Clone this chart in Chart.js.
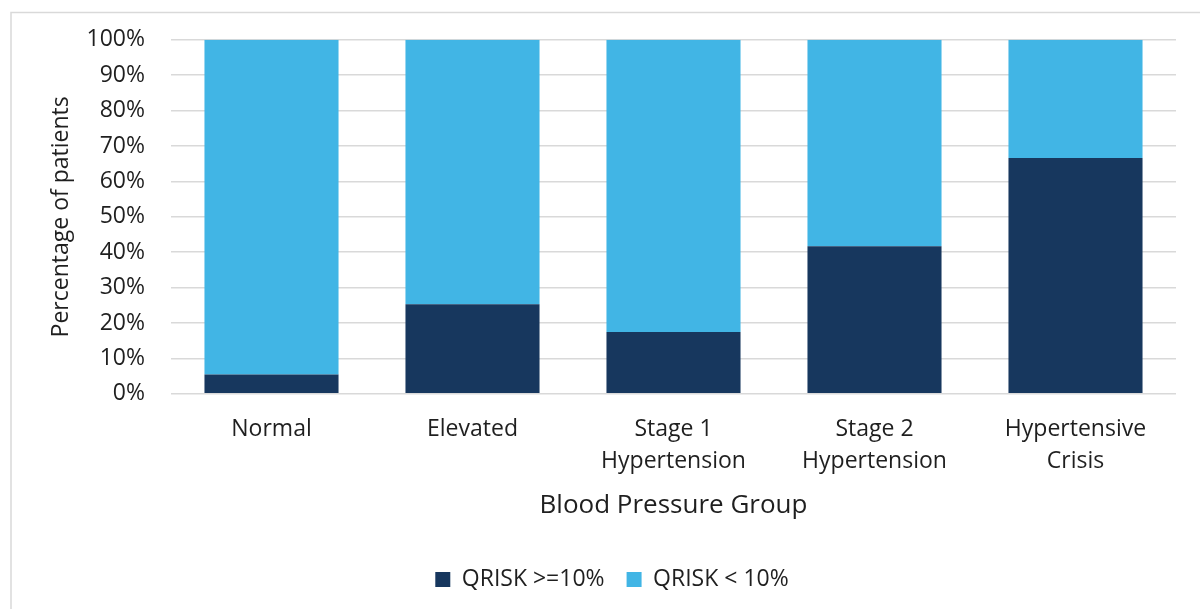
<!DOCTYPE html>
<html>
<head>
<meta charset="utf-8">
<script src="https://cdn.jsdelivr.net/npm/chart.js@4"></script>
<style>
  html, body { margin: 0; padding: 0; background: #fff; }
  #wrap { width: 1200px; height: 609px; position: relative; }
</style>
</head>
<body>
<div id="wrap"><canvas id="bpChart" width="1200" height="609"></canvas></div>
<script>
const groups = ['Normal', 'Elevated', ['Stage 1', 'Hypertension'], ['Stage 2', 'Hypertension'], ['Hypertensive', 'Crisis']];
const qriskHigh = [5.5, 25.3, 17.5, 41.7, 66.6];
const qriskLow = [94.5, 74.7, 82.5, 58.3, 33.4];
const yTicks = [0, 10, 20, 30, 40, 50, 60, 70, 80, 90, 100];

const textColor = '#1f1f1f';
const fontFamily = '"Open Sans", "Noto Sans", sans-serif';

// light frame around the chart area, like the exported chart
const framePlugin = {
    id: 'frame',
    beforeDraw(chart) {
        const ctx = chart.ctx;
        ctx.save();
        ctx.fillStyle = '#fff';
        ctx.fillRect(0, 0, chart.width, chart.height);
        ctx.strokeStyle = '#d9d9d9';
        ctx.lineWidth = 1.5;
        ctx.strokeRect(11, 12.5, 1300, 700);
        ctx.restore();
    }
};

const ctx = document.getElementById('bpChart').getContext('2d');
new Chart(ctx, {
    type: 'bar',
    data: {
        labels: groups,
        datasets: [{
            label: 'QRISK >=10%',
            data: qriskHigh,
            backgroundColor: '#17375E',
            borderWidth: 0
        }, {
            label: 'QRISK < 10%',
            data: qriskLow,
            backgroundColor: '#41B5E5',
            borderWidth: 0
        }]
    },
    options: {
        responsive: false,
        animation: false,
        layout: { padding: { top: 39, left: 48, right: 24, bottom: 8 } },
        datasets: {
            bar: { categoryPercentage: 1, barPercentage: 0.667 }
        },
        plugins: {
            legend: {
                position: 'bottom',
                labels: {
                    boxWidth: 15,
                    boxHeight: 15,
                    padding: 22,
                    color: textColor,
                    font: { family: fontFamily, size: 23 }
                }
            },
            tooltip: { enabled: false }
        },
        scales: {
            x: {
                stacked: true,
                grid: { display: false },
                border: { display: false },
                ticks: {
                    color: textColor,
                    maxRotation: 0,
                    padding: 12,
                    font: { family: fontFamily, size: 23, lineHeight: 1.39 }
                },
                title: {
                    display: true,
                    text: 'Blood Pressure Group',
                    color: textColor,
                    padding: { top: 0, bottom: 25 },
                    font: { family: fontFamily, size: 26 }
                }
            },
            y: {
                stacked: true,
                min: 0,
                max: 100,
                afterBuildTicks(axis) {
                    axis.ticks = yTicks.map(v => ({ value: v }));
                },
                afterFit(axis) {
                    axis.width = 123;
                },
                grid: { color: '#d9d9d9', lineWidth: 1.5, drawTicks: false },
                border: { display: false },
                ticks: {
                    color: textColor,
                    padding: 26,
                    callback: v => v + '%',
                    font: { family: fontFamily, size: 23 }
                },
                title: {
                    display: true,
                    text: 'Percentage of patients',
                    color: textColor,
                    padding: { top: 0, bottom: 10 },
                    font: { family: fontFamily, size: 23 }
                }
            }
        }
    },
    plugins: [framePlugin]
});
</script>
</body>
</html>
